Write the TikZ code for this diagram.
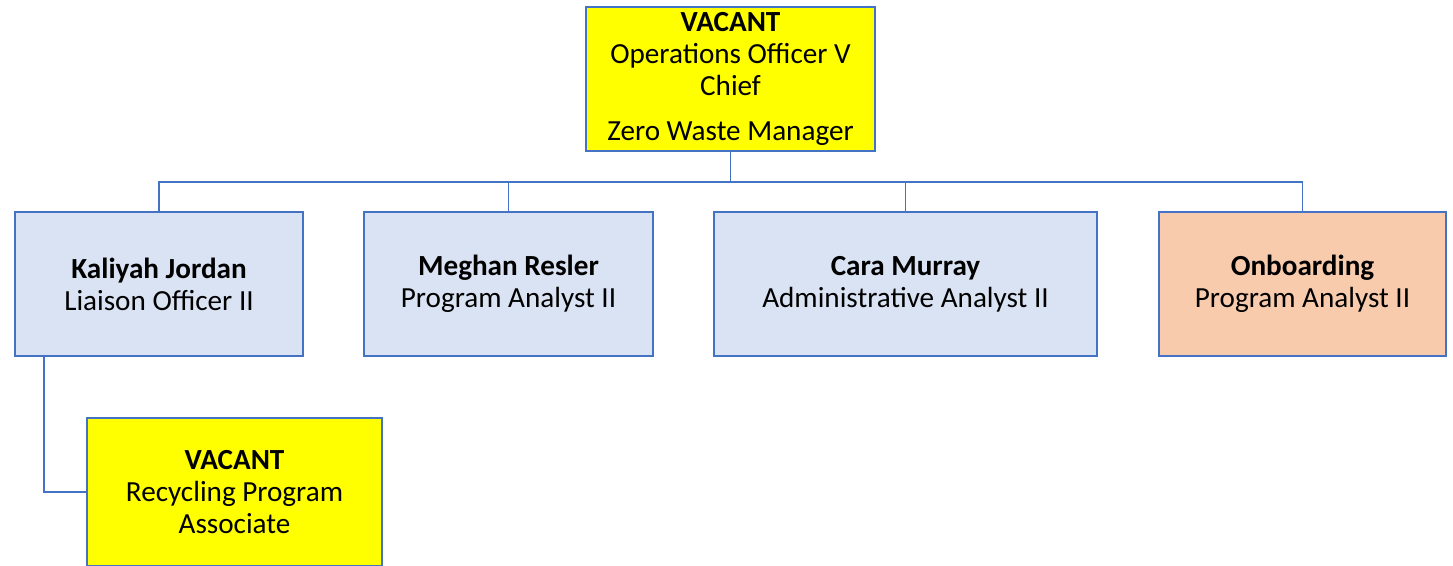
\documentclass[tikz,border=0pt]{standalone}
\usepackage{fontspec}
\setmainfont{Carlito}
\definecolor{boxline}{HTML}{4472C4}
\definecolor{vacantfill}{HTML}{FFFF00}
\definecolor{stafffill}{HTML}{DAE3F3}
\definecolor{onboardfill}{HTML}{F8CBAD}
\tikzset{
  orgbox/.style={draw=boxline, line width=0.9pt, inner sep=0pt, align=center,
    font=\fontsize{16.6}{18.2}\selectfont, minimum height=2.88cm},
  vacant/.style={orgbox, fill=vacantfill},
  staff/.style={orgbox, fill=stafffill},
  onboard/.style={orgbox, fill=onboardfill},
  link/.style={draw=boxline, line width=0.9pt}
}
\begin{document}
\begin{tikzpicture}[x=0.02cm, y=-0.02cm]
    \useasboundingbox (0,0) rectangle (1453,565);
    \node[vacant, minimum width=5.78cm] (chief) at (730.5,79) {\textbf{VACANT}\\Operations Officer V\\Chief\\[7pt]Zero Waste Manager};
    \node[staff, minimum width=5.76cm] (jordan) at (159,284) {\textbf{Kaliyah Jordan}\\Liaison Officer II};
    \node[staff, minimum width=5.78cm] (resler) at (508.5,284) {\textbf{Meghan Resler}\\Program Analyst II};
    \node[staff, minimum width=7.66cm] (murray) at (905.5,284) {\textbf{Cara Murray}\\Administrative Analyst II};
    \node[onboard, minimum width=5.74cm] (onboard) at (1302.5,284) {\textbf{Onboarding}\\Program Analyst II};
    \node[vacant, minimum width=5.9cm, minimum height=2.96cm] (recycle) at (234.5,492) {\textbf{VACANT}\\Recycling Program\\Associate};
    \draw[link] (chief.south) -- ++(0,30) -| (jordan.north);
    \draw[link] (chief.south) -- ++(0,30) -| (resler.north);
    \draw[link] (chief.south) -- ++(0,30) -| (murray.north);
    \draw[link] (chief.south) -- ++(0,30) -| (onboard.north);
    \draw[link] (jordan.south -| 44,0) |- (recycle.west);
\end{tikzpicture}
\end{document}
